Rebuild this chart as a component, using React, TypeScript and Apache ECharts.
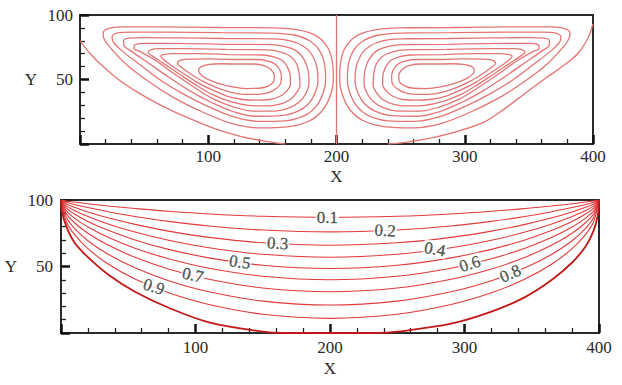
import React, { useEffect, useRef } from "react";
import * as echarts from "echarts";

// ---------- Top panel: streamlines (x, y pairs) ----------
const leftLoop1 = [[110,90.3],[150,90],[170,88.5],[184,84],[193,75],[197,62],[197.5,50],[195,37],[189,26],[179,18],[163,13.5],[140,12.5],[118,16],[95,25],[73,36],[54,48],[38,60],[26,72],[19,81],[18,86],[22,89.5],[32,90.8],[60,90.8],[110,90.3]];
const leftLoop2 = [[110,86.3],[150,86],[167,84.5],[179,80],[187,72],[191,60],[191.5,49],[189,38],[184,29],[175,22],[160,18],[140,17.5],[120,21],[100,29],[80,39],[62,50],[46,62],[33,72],[26,79],[25,83],[29,86],[40,86.8],[70,86.7],[110,86.3]];
const leftLoop3 = [[112,81.8],[150,81.5],[164,80],[174,76],[181,69],[185,58],[185.5,48],[183,39],[178,31],[170,25.5],[157,22],[138,21.5],[120,25],[103,32],[86,41],[69,52],[53,63],[40,72],[34,77],[34,80],[38,82],[50,82.5],[80,82.2],[112,81.8]];
const leftLoop4 = [[112,77.3],[148,77],[160,75.5],[169,72],[175,65],[178,56],[178.5,47],[176,39],[171,32.5],[163,28],[151,25.5],[135,25.5],[119,29],[104,35],[89,44],[74,54],[60,64],[48,71],[42,74.5],[43,77],[50,78],[70,78],[112,77.3]];
const leftLoop5 = [[114,73.3],[146,73],[156,71.5],[164,68],[169,62],[171,54],[171.5,46],[169,40],[164,34.5],[156,31],[145,29.5],[131,30],[117,33],[103,38.5],[90,46],[77,54.5],[65,62.5],[56,68.5],[53,71],[55,73],[62,74],[80,74],[114,73.3]];
const leftLoop6 = [[116,69.3],[142,69],[151,67.5],[158,64.5],[162,59],[164,52],[164,46],[161,41],[156,37],[148,34.5],[138,34],[127,34.5],[115,37],[103,42],[91,48],[80,55],[71,61],[65,65.5],[63,68],[66,69.5],[75,70],[90,70],[116,69.3]];
const leftLoop7 = [[118,65.5],[138,65.5],[146,64.5],[152,62],[156,57],[157,52],[156.5,47],[153,43],[147,39.8],[138,38.5],[128,38.5],[118,40],[107,43.5],[96,48.5],[86,54.5],[79,59.5],[76,62.5],[78,64.8],[86,65.8],[100,66],[118,65.5]];
const leftLoop8 = [[120,62],[136,62],[144,60.5],[149,57.5],[151.5,53],[151,48.5],[147,45],[140,43.2],[130,43],[119,44.2],[108,47],[99,50.5],[94,54],[92.5,57],[94.5,60],[101,61.7],[110,62.2],[120,62]];
const leftOpen = [[0,80],[8,70],[18,60],[30,50],[45,40],[65,29],[85,20],[105,12],[125,6],[145,2],[160,0]];

const rightLoop1 = [[290,90.3],[250,90],[230,88.5],[216,84],[207,75],[203,62],[202.5,50],[205,37],[211,26],[221,18],[237,13.5],[260,12.5],[282,16],[305,25],[327,36],[346,48],[362,60],[374,72],[381,81],[382,86],[378,89.5],[368,90.8],[340,90.8],[290,90.3]];
const rightLoop2 = [[290,86.3],[250,86],[233,84.5],[221,80],[213,72],[209,60],[208.5,49],[211,38],[216,29],[225,22],[240,18],[260,17.5],[280,21],[300,29],[320,39],[338,50],[354,62],[367,72],[374,79],[375,83],[371,86],[360,86.8],[330,86.7],[290,86.3]];
const rightLoop3 = [[288,81.8],[250,81.5],[236,80],[226,76],[219,69],[215,58],[214.5,48],[217,39],[222,31],[230,25.5],[243,22],[262,21.5],[280,25],[297,32],[314,41],[331,52],[347,63],[360,72],[366,77],[366,80],[362,82],[350,82.5],[320,82.2],[288,81.8]];
const rightLoop4 = [[288,77.3],[252,77],[240,75.5],[231,72],[225,65],[222,56],[221.5,47],[224,39],[229,32.5],[237,28],[249,25.5],[265,25.5],[281,29],[296,35],[311,44],[326,54],[340,64],[352,71],[358,74.5],[357,77],[350,78],[330,78],[288,77.3]];
const rightLoop5 = [[286,73.3],[254,73],[244,71.5],[236,68],[231,62],[229,54],[228.5,46],[231,40],[236,34.5],[244,31],[255,29.5],[269,30],[283,33],[297,38.5],[310,46],[323,54.5],[335,62.5],[344,68.5],[347,71],[345,73],[338,74],[320,74],[286,73.3]];
const rightLoop6 = [[284,69.3],[258,69],[249,67.5],[242,64.5],[238,59],[236,52],[236,46],[239,41],[244,37],[252,34.5],[262,34],[273,34.5],[285,37],[297,42],[309,48],[320,55],[329,61],[335,65.5],[337,68],[334,69.5],[325,70],[310,70],[284,69.3]];
const rightLoop7 = [[282,65.5],[262,65.5],[254,64.5],[248,62],[244,57],[243,52],[243.5,47],[247,43],[253,39.8],[262,38.5],[272,38.5],[282,40],[293,43.5],[304,48.5],[314,54.5],[321,59.5],[324,62.5],[322,64.8],[314,65.8],[300,66],[282,65.5]];
const rightLoop8 = [[280,62],[264,62],[256,60.5],[251,57.5],[248.5,53],[249,48.5],[253,45],[260,43.2],[270,43],[281,44.2],[292,47],[301,50.5],[306,54],[307.5,57],[305.5,60],[299,61.7],[290,62.2],[280,62]];
const rightOpen = [[400,93],[396,82],[388,70],[376,60],[363,51],[348,40],[332,28],[315,17],[295,10],[275,5],[255,1.5],[240,0]];

const dividerLine = [[200,0],[200,100]];

const topStreamlines = [
  leftLoop1, leftLoop2, leftLoop3, leftLoop4, leftLoop5, leftLoop6, leftLoop7, leftLoop8, leftOpen,
  rightLoop1, rightLoop2, rightLoop3, rightLoop4, rightLoop5, rightLoop6, rightLoop7, rightLoop8, rightOpen,
  dividerLine,
];

// ---------- Bottom panel: iso-lines ----------
const contourX = [0, 4, 10, 20, 35, 55, 80, 110, 150, 200, 250, 290, 320, 345, 365, 380, 390, 396, 400];
const level01Y = [100, 99.3, 98.5, 97.2, 95.5, 93.6, 91.5, 89.5, 87.8, 87, 87.8, 89.5, 91.5, 93.6, 95.5, 97.2, 98.5, 99.3, 100];
const level02Y = [100, 98.3, 96.6, 94.3, 91.2, 87.6, 83.9, 80.4, 77.4, 76, 77.4, 80.4, 83.9, 87.6, 91.2, 94.3, 96.6, 98.3, 100];
const level03Y = [100, 97.0, 94.5, 91.0, 86.6, 81.7, 76.6, 71.9, 67.8, 66, 67.8, 71.9, 76.6, 81.7, 86.6, 91.0, 94.5, 97.0, 100];
const level04Y = [100, 95.6, 92.1, 87.6, 82.0, 75.9, 69.7, 64.1, 59.2, 57, 59.2, 64.1, 69.7, 75.9, 82.0, 87.6, 92.1, 95.6, 100];
const level05Y = [100, 93.9, 89.5, 83.9, 77.2, 70.0, 62.9, 56.5, 50.9, 48.5, 50.9, 56.5, 62.9, 70.0, 77.2, 83.9, 89.5, 93.9, 100];
const level06Y = [100, 91.9, 86.4, 79.7, 72.0, 63.8, 55.8, 48.7, 42.7, 40, 42.7, 48.7, 55.8, 63.8, 72.0, 79.7, 86.4, 91.9, 100];
const level07Y = [100, 89.6, 82.9, 75.0, 66.1, 56.9, 48.1, 40.4, 33.8, 31, 33.8, 40.4, 48.1, 56.9, 66.1, 75.0, 82.9, 89.6, 100];
const level08Y = [100, 86.8, 78.7, 69.4, 59.2, 49.0, 39.3, 31.0, 24.0, 21, 24.0, 31.0, 39.3, 49.0, 59.2, 69.4, 78.7, 86.8, 100];
const level09Y = [100, 83.7, 74.1, 63.4, 51.9, 40.6, 30.2, 21.4, 14.1, 11, 14.1, 21.4, 30.2, 40.6, 51.9, 63.4, 74.1, 83.7, 100];
const isoLines = [level01Y, level02Y, level03Y, level04Y, level05Y, level06Y, level07Y, level08Y, level09Y];

const boundaryX = [0, 1, 4, 10, 20, 35, 55, 80, 110, 150, 165, 235, 250, 290, 320, 345, 365, 380, 390, 396, 399, 400];
const boundaryY = [100, 90, 80, 68, 57, 44, 31, 19, 8, 1, 0, 0, 1, 7, 16, 27, 40, 53, 65, 77, 88, 100];

const labelText = ["0.1", "0.2", "0.3", "0.4", "0.5", "0.6", "0.7", "0.8", "0.9"];
const labelX = [198, 241, 161, 278, 133, 304, 98, 334, 69];
const labelY = [87, 77, 67.4, 63, 53.3, 52, 43.5, 44.6, 34.8];
const labelAngle = [0, -3, -3, -10, -8, 18, -12, 24, -18];

// ---------- Axes ----------
const xTicks = { min: 0, max: 400, interval: 100 };
const yTicks = { min: 0, max: 100, interval: 50 };

const FONT = "Liberation Serif, Times New Roman, serif";

function makeX(gridIndex: number, labelMargin: number, nameGap: number) {
  return {
    type: "value",
    gridIndex,
    min: xTicks.min,
    max: xTicks.max,
    interval: xTicks.interval,
    name: "X",
    nameLocation: "middle",
    nameGap,
    nameTextStyle: { fontFamily: FONT, fontSize: 17, color: "#2a2a2a" },
    axisLine: { show: false },
    axisTick: { show: true, inside: true, length: 9, lineStyle: { color: "#111", width: 2.5 } },
    minorTick: { show: true, splitNumber: 5, length: 5, lineStyle: { color: "#222", width: 1.3 } },
    splitLine: { show: false },
    axisLabel: {
      margin: labelMargin,
      fontFamily: FONT,
      fontSize: 17,
      color: "#2a2a2a",
      formatter: (v: number) => (v === 0 ? "" : String(v)),
    },
  };
}

function makeY(gridIndex: number, labelMargin: number, nameGap: number) {
  return {
    type: "value",
    gridIndex,
    min: yTicks.min,
    max: yTicks.max,
    interval: yTicks.interval,
    name: "Y",
    nameLocation: "middle",
    nameRotate: 0,
    nameGap,
    nameTextStyle: { fontFamily: FONT, fontSize: 17, color: "#2a2a2a" },
    axisLine: { show: false },
    axisTick: { show: true, inside: true, length: 9, lineStyle: { color: "#111", width: 2.5 } },
    minorTick: { show: true, splitNumber: 5, length: 5, lineStyle: { color: "#222", width: 1.3 } },
    splitLine: { show: false },
    axisLabel: {
      margin: labelMargin,
      fontFamily: FONT,
      fontSize: 17,
      color: "#2a2a2a",
      formatter: (v: number) => (v === 0 ? "" : String(v)),
    },
  };
}

export default function App() {
  const ref = useRef<HTMLDivElement>(null);

  useEffect(() => {
    if (!ref.current) return;
    const chart = echarts.init(ref.current, undefined, { renderer: "svg" });

    const topSeries = topStreamlines.map((pts) => ({
      type: "line",
      xAxisIndex: 0,
      yAxisIndex: 0,
      data: pts,
      smooth: 0.35,
      symbol: "none",
      silent: true,
      lineStyle: { color: "#e47474", width: 1.3 },
    }));

    const isoSeries = isoLines.map((ys) => ({
      type: "line",
      xAxisIndex: 1,
      yAxisIndex: 1,
      data: contourX.map((x, i) => [x, ys[i]]),
      smooth: 0.35,
      symbol: "none",
      silent: true,
      lineStyle: { color: "#e23a3a", width: 1.1 },
    }));

    const boundarySeries = {
      type: "line",
      xAxisIndex: 1,
      yAxisIndex: 1,
      data: boundaryX.map((x, i) => [x, boundaryY[i]]),
      smooth: 0.35,
      symbol: "none",
      silent: true,
      lineStyle: { color: "#c21818", width: 1.8 },
    };

    const labelSeries = {
      type: "scatter",
      xAxisIndex: 1,
      yAxisIndex: 1,
      z: 5,
      symbolSize: 0,
      silent: true,
      data: labelX.map((x, i) => ({
        value: [x, labelY[i]],
        label: {
          show: true,
          position: "inside",
          rotate: labelAngle[i],
          formatter: labelText[i],
          fontFamily: FONT,
          fontSize: 17,
          color: "#22302a",
          textBorderColor: "#22302a",
          textBorderWidth: 0.3,
          backgroundColor: "#ffffff",
          padding: [0, 1],
        },
      })),
    };

    chart.setOption({
      animation: false,
      backgroundColor: "#ffffff",
      grid: [
        { left: 80, top: 15, width: 513, height: 129, show: true, borderColor: "#2a2a2a", borderWidth: 2, backgroundColor: "transparent" },
        { left: 61, top: 200, width: 538, height: 133, show: true, borderColor: "#2a2a2a", borderWidth: 2, backgroundColor: "transparent" },
      ],
      xAxis: [makeX(0, 4, 24), makeX(1, 6, 27)],
      yAxis: [makeY(0, 7, 43), makeY(1, 8, 44)],
      series: [...topSeries, ...isoSeries, boundarySeries, labelSeries],
    });

    return () => chart.dispose();
  }, []);

  return (
    <div
      ref={ref}
      style={{ position: "fixed", left: 0, top: 0, width: 622, height: 385, background: "#fff" }}
    />
  );
}
